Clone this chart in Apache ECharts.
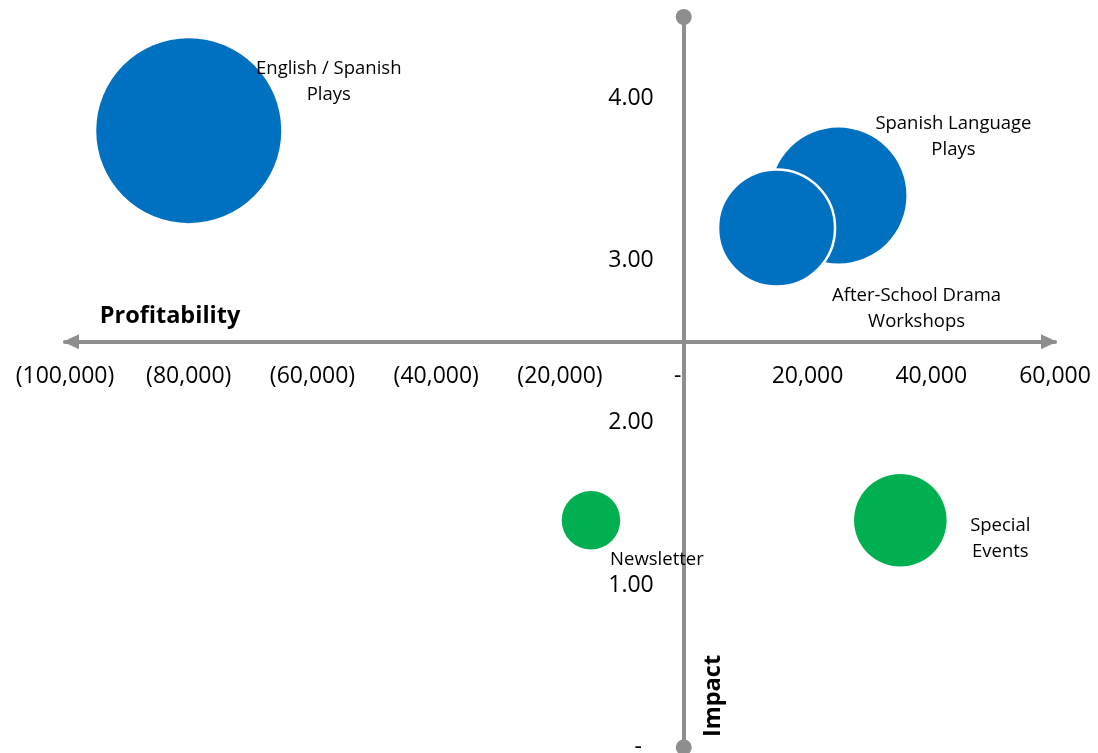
<!DOCTYPE html>
<html>
<head>
<meta charset="utf-8">
<script src="https://cdn.jsdelivr.net/npm/echarts@6/dist/echarts.min.js"></script>
<style>
    html, body { margin: 0; padding: 0; background: #fff; }
    #chart { width: 1098px; height: 753px; }
</style>
</head>
<body>
<div id="chart"></div>
<script>
// program portfolio: profitability vs impact, bubble = relative size
const programs = ['English / Spanish\nPlays', 'Spanish Language\nPlays', 'After-School Drama\nWorkshops', 'Newsletter', 'Special\nEvents'];
const profitability = [-80000, 25000, 15000, -15000, 35000];
const impact = [3.8, 3.4, 3.2, 1.4, 1.4];
const bubbleSize = [100, 54, 40, 10, 25];

const xTickValues = [-100000, -80000, -60000, -40000, -20000, 0, 20000, 40000, 60000];
const xTickLabels = ['(100,000)', '(80,000)', '(60,000)', '(40,000)', '(20,000)', '-  ', '20,000', '40,000', '60,000'];
const yTickValues = [0, 1, 2, 3, 4];
const yTickLabels = ['-  ', '1.00', '2.00', '3.00', '4.00'];

// where the two axes cross (impact value for the profitability axis)
const xMin = -100000, xMax = 60000, yMin = 0, yMax = 4.5;
const crossImpact = 2.5;
const crossProfit = 0;

// styling per bubble (not data)
const bubbleColors = ['#0070C0', '#0070C0', '#0070C0', '#00B050', '#00B050'];
const labelOffsets = [[140, -49], [115, -59], [140, 81], [66, 40], [100, 19]];

const FONT = '"Open Sans", "Noto Sans", sans-serif';
const AXIS_GRAY = '#8E8E8E';

const W = 1098, H = 753;
const grid = { left: 65, right: 43, top: 17, bottom: 5.5 };
const gridW = W - grid.left - grid.right;
const gridH = H - grid.top - grid.bottom;

const chart = echarts.init(document.getElementById('chart'), null, { renderer: 'canvas' });

const lookup = (values, labels) => (v) => {
    const i = values.findIndex(t => Math.abs(t - v) < 1e-6);
    return i >= 0 ? labels[i] : '';
};

const seriesData = programs.map((name, i) => ({
    name: name,
    value: [profitability[i], impact[i], bubbleSize[i]],
    itemStyle: i === 2
        ? { color: bubbleColors[i], borderColor: '#ffffff', borderWidth: 2.5 }
        : { color: bubbleColors[i] },
    label: { offset: labelOffsets[i] }
}));

const option = {
    animation: false,
    backgroundColor: '#ffffff',
    grid: {
        left: grid.left,
        right: grid.right,
        top: grid.top,
        bottom: grid.bottom,
        containLabel: false,
        outerBoundsMode: 'none'
    },
    xAxis: {
        type: 'value',
        min: xMin,
        max: xMax,
        interval: 20000,
        // pull the axis up from the grid bottom to the crossing value
        offset: -(crossImpact - yMin) / (yMax - yMin) * gridH,
        axisLine: {
            onZero: false,
            symbol: ['triangle', 'triangle'],
            symbolSize: [15, 16],
            symbolOffset: [6, -6],
            lineStyle: { color: AXIS_GRAY, width: 4 }
        },
        axisTick: { show: false },
        splitLine: { show: false },
        axisLabel: {
            margin: 23,
            fontFamily: FONT,
            fontSize: 23,
            color: '#000',
            formatter: lookup(xTickValues, xTickLabels)
        }
    },
    yAxis: {
        type: 'value',
        min: yMin,
        max: yMax,
        interval: 1,
        offset: -(crossProfit - xMin) / (xMax - xMin) * gridW,
        axisLine: {
            onZero: false,
            symbol: ['circle', 'circle'],
            symbolSize: [16, 16],
            lineStyle: { color: AXIS_GRAY, width: 4 }
        },
        axisTick: { show: false },
        splitLine: { show: false },
        axisLabel: {
            margin: 30,
            showMaxLabel: false,
            fontFamily: FONT,
            fontSize: 23,
            color: '#000',
            formatter: lookup(yTickValues, yTickLabels)
        }
    },
    graphic: [
        {
            type: 'text',
            x: 170,
            y: 316,
            style: {
                text: 'Profitability',
                font: 'bold 23.5px ' + FONT,
                fill: '#000',
                align: 'center',
                verticalAlign: 'middle'
            }
        },
        {
            type: 'text',
            x: 713,
            y: 696,
            rotation: Math.PI / 2,
            style: {
                text: 'Impact',
                font: 'bold 23.5px ' + FONT,
                fill: '#000',
                align: 'center',
                verticalAlign: 'middle'
            }
        }
    ],
    series: [
        {
            type: 'scatter',
            symbol: 'circle',
            symbolSize: (v) => 185 * Math.sqrt(v[2] / 100),
            data: seriesData,
            itemStyle: { opacity: 1 },
            label: {
                show: true,
                position: 'inside',
                formatter: (p) => p.name,
                fontFamily: FONT,
                fontSize: 18.5,
                lineHeight: 26,
                color: '#000',
                align: 'center',
                verticalAlign: 'middle'
            },
            emphasis: { disabled: true }
        }
    ]
};

chart.setOption(option);
window.addEventListener('resize', () => chart.resize());
</script>
</body>
</html>
